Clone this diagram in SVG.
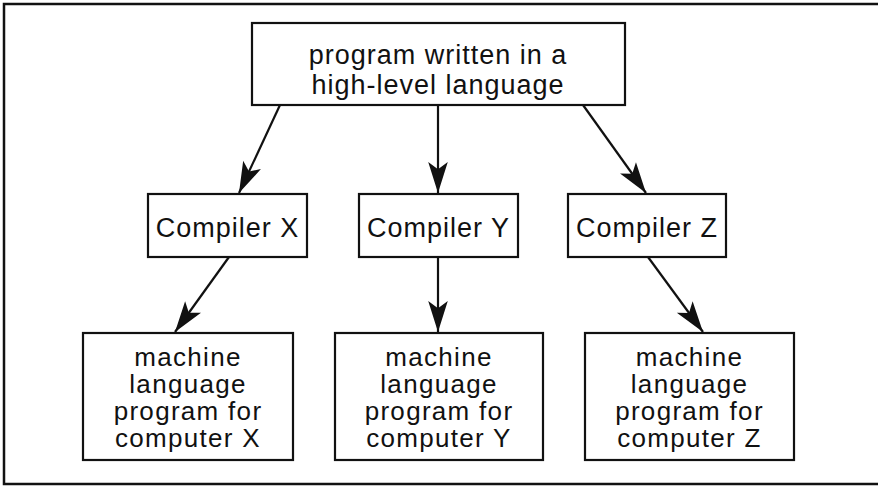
<svg xmlns="http://www.w3.org/2000/svg" width="878" height="486" viewBox="0 0 878 486">
  <style>
    .box { fill: #fff; stroke: #111; stroke-width: 2.2; }
    .lbl { font-family: "Liberation Sans", Arial, sans-serif; font-size: 27px; letter-spacing: 1px; fill: #111; text-anchor: middle; }
    .small { font-size: 26px; letter-spacing: 1.3px; }
    .edge { stroke: #111; stroke-width: 2.2; fill: none; marker-end: url(#head); }
    .frame { fill: none; stroke: #111; stroke-width: 2.5; }
  </style>
  <defs>
    <marker id="head" markerUnits="userSpaceOnUse" markerWidth="34" markerHeight="24" viewBox="-31 -11 33 22" refX="0" refY="0" orient="auto">
      <path d="M0,0 L-30,-9.5 L-23,0 L-30,9.5 Z" fill="#111"/>
    </marker>
  </defs>
  <rect width="878" height="486" fill="#fff"/>

  <!-- outer frame: left, top and bottom rules -->
  <path class="frame" d="M878,4 L4,4 L4,484 L878,484"/>

  <g id="connectors">
    <line class="edge" x1="280" y1="105" x2="239" y2="193"/>
    <line class="edge" x1="438" y1="105" x2="438" y2="193"/>
    <line class="edge" x1="583" y1="105" x2="646" y2="193"/>
    <line class="edge" x1="229" y1="257" x2="175" y2="332"/>
    <line class="edge" x1="438" y1="257" x2="438" y2="332"/>
    <line class="edge" x1="648" y1="257" x2="703" y2="332"/>
  </g>

  <g id="source">
    <rect class="box" x="252" y="23" width="373" height="82"/>
    <text class="lbl" x="438" y="64">program written in a</text>
    <text class="lbl" x="438" y="94">high-level language</text>
  </g>

  <g id="compilerX">
    <rect class="box" x="148" y="194" width="159" height="63"/>
    <text class="lbl" x="227.5" y="237">Compiler X</text>
  </g>
  <g id="compilerY">
    <rect class="box" x="359" y="194" width="159" height="63"/>
    <text class="lbl" x="438.5" y="237">Compiler Y</text>
  </g>
  <g id="compilerZ">
    <rect class="box" x="568" y="194" width="158" height="63"/>
    <text class="lbl" x="647" y="237">Compiler Z</text>
  </g>

  <g id="machineX">
    <rect class="box" x="83" y="333" width="210" height="127"/>
    <text class="lbl small" x="188" y="366">machine</text>
    <text class="lbl small" x="188" y="393">language</text>
    <text class="lbl small" x="188" y="420">program for</text>
    <text class="lbl small" x="188" y="447">computer X</text>
  </g>
  <g id="machineY">
    <rect class="box" x="335" y="333" width="208" height="127"/>
    <text class="lbl small" x="439" y="366">machine</text>
    <text class="lbl small" x="439" y="393">language</text>
    <text class="lbl small" x="439" y="420">program for</text>
    <text class="lbl small" x="439" y="447">computer Y</text>
  </g>
  <g id="machineZ">
    <rect class="box" x="585" y="333" width="209" height="127"/>
    <text class="lbl small" x="689.5" y="366">machine</text>
    <text class="lbl small" x="689.5" y="393">language</text>
    <text class="lbl small" x="689.5" y="420">program for</text>
    <text class="lbl small" x="689.5" y="447">computer Z</text>
  </g>
</svg>
